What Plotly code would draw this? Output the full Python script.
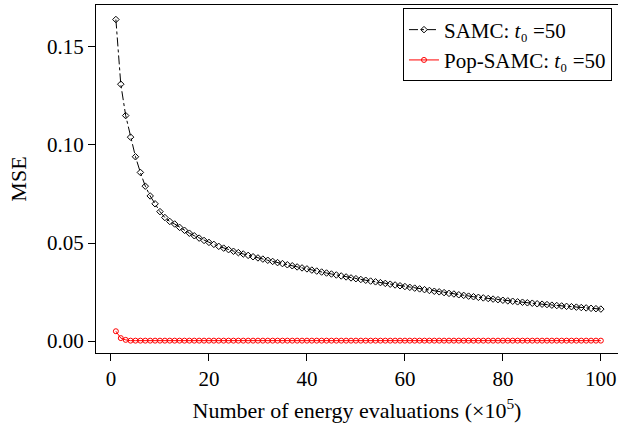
import plotly.graph_objects as go

evals = list(range(1, 101))

samc_mse = [
    0.164, 0.131, 0.115, 0.104, 0.094, 0.086, 0.079, 0.074, 0.070, 0.066,
    0.063, 0.061, 0.0597, 0.058, 0.0565, 0.055, 0.0537, 0.0525, 0.0513, 0.0503,
    0.0493, 0.0483, 0.0474, 0.0466, 0.0458, 0.0451, 0.0444, 0.0437, 0.0430, 0.0424,
    0.0418, 0.0412, 0.0406, 0.0400, 0.0395, 0.0389, 0.0384, 0.0378, 0.0373, 0.0368,
    0.0362, 0.0357, 0.0352, 0.0347, 0.0342, 0.0337, 0.0332, 0.0327, 0.0322, 0.0318,
    0.0314, 0.0310, 0.0306, 0.0302, 0.0298, 0.0294, 0.0290, 0.0286, 0.0282, 0.0278,
    0.0274, 0.0270, 0.0266, 0.0262, 0.0258, 0.0254, 0.0251, 0.0247, 0.0243, 0.0240,
    0.0236, 0.0233, 0.0229, 0.0226, 0.0223, 0.0220, 0.0217, 0.0214, 0.0211, 0.0208,
    0.0205, 0.0203, 0.0200, 0.0198, 0.0195, 0.0193, 0.0190, 0.0188, 0.0186, 0.0183,
    0.0181, 0.0179, 0.0177, 0.0175, 0.0173, 0.0171, 0.0169, 0.0167, 0.0165, 0.0163,
]

pop_samc_mse = [0.0050, 0.0015, 0.0006] + [0.0002] * 97

y_tick_vals = [0.0, 0.05, 0.10, 0.15]
y_tick_text = ["0.00", "0.05", "0.10", "0.15"]
x_tick_vals = [0, 20, 40, 60, 80, 100]

FONT = "Liberation Serif, Times New Roman, serif"

fig = go.Figure()
fig.add_trace(go.Scatter(
    x=evals, y=samc_mse, mode="lines+markers",
    name="SAMC: <i>t</i>₀ =50",
    line=dict(color="black", width=1, dash="dashdot"),
    marker=dict(symbol="diamond-open", size=5, color="black", line=dict(width=1)),
))
fig.add_trace(go.Scatter(
    x=evals, y=pop_samc_mse, mode="lines+markers",
    name="Pop-SAMC: <i>t</i>₀ =50",
    line=dict(color="red", width=1),
    marker=dict(symbol="circle-open", size=5, color="red", line=dict(width=1)),
))

fig.update_layout(
    width=618, height=428,
    margin=dict(l=96, r=0, t=5, b=75),
    paper_bgcolor="white", plot_bgcolor="white",
    font=dict(family=FONT, size=20, color="black"),
    showlegend=True,
    legend=dict(
        x=0.9885, y=0.99, xanchor="right", yanchor="top",
        bordercolor="black", borderwidth=1, bgcolor="white",
        font=dict(family=FONT, size=21), tracegroupgap=0,
        itemwidth=30,
    ),
)
fig.update_xaxes(
    range=[-3.06, 103.5], tickvals=x_tick_vals,
    showline=True, linecolor="black", linewidth=1, mirror=True,
    ticks="outside", ticklen=7, tickcolor="black", showgrid=False, zeroline=False,
    tickfont=dict(family=FONT, size=21),
    title=dict(text="Number of energy evaluations (×10<sup>5</sup>)", font=dict(family=FONT, size=22), standoff=12),
)
fig.update_yaxes(
    range=[-0.0061, 0.1714], tickvals=y_tick_vals, ticktext=y_tick_text,
    showline=True, linecolor="black", linewidth=1, mirror=True,
    ticks="outside", ticklen=7, tickcolor="black", showgrid=False, zeroline=False,
    tickfont=dict(family=FONT, size=21),
    title=dict(text="MSE", font=dict(family=FONT, size=22), standoff=14),
)

fig.write_html("out.html", config={"displayModeBar": False},
               post_script="document.body.style.margin='0';")
